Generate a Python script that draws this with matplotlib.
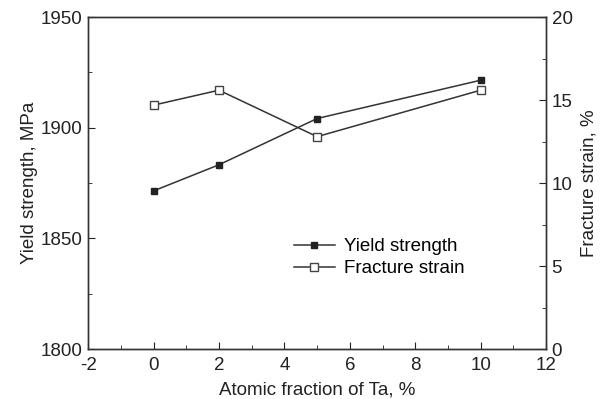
import matplotlib
import matplotlib.pyplot as plt
from matplotlib.ticker import MultipleLocator

matplotlib.use("Agg")

plt.rcParams["font.family"] = ["Liberation Sans", "DejaVu Sans"]
plt.rcParams["axes.unicode_minus"] = False

ta_fraction = [0, 2, 5, 10]
yield_strength = [1871.5, 1883.3, 1904.2, 1921.5]
fracture_strain = [14.7, 15.6, 12.8, 15.6]

fig, ax = plt.subplots(figsize=(6.04, 3.99), dpi=100)
fig.subplots_adjust(left=0.146, right=0.904, top=0.957, bottom=0.125)
ax2 = ax.twinx()

line_color = "#333333"
l1, = ax.plot(ta_fraction, yield_strength, marker="s", color=line_color,
              markerfacecolor="#222222", markeredgecolor="#222222",
              markersize=5, linewidth=1.1, label="Yield strength")
l2, = ax2.plot(ta_fraction, fracture_strain, marker="s", color=line_color,
               markerfacecolor="white", markeredgecolor="#444444",
               markersize=6, linewidth=1.1, label="Fracture strain")

ax.set_xlim(-2, 12)
ax.set_ylim(1800, 1950)
ax2.set_ylim(0, 20)
ax.xaxis.set_major_locator(MultipleLocator(2))
ax.xaxis.set_minor_locator(MultipleLocator(1))
ax.yaxis.set_major_locator(MultipleLocator(50))
ax.yaxis.set_minor_locator(MultipleLocator(25))
ax2.yaxis.set_major_locator(MultipleLocator(5))
ax2.yaxis.set_minor_locator(MultipleLocator(2.5))

for a in (ax, ax2):
    a.tick_params(which="both", direction="in", labelsize=13.5, colors="#222222")
    a.tick_params(which="major", length=5, pad=4)
    a.tick_params(which="minor", length=3)
    for s in a.spines.values():
        s.set_color("#333333")
        s.set_linewidth(1.0)
ax.tick_params(axis="x", which="major", pad=6)
for lbl in ax2.get_yticklabels():
    lbl.set_verticalalignment("center_baseline")

ax.set_xlabel("Atomic fraction of Ta, %", fontsize=13.5, color="#222222", labelpad=5)
ax.set_ylabel("Yield strength, MPa", fontsize=13.5, color="#222222", labelpad=2)
ax2.set_ylabel("Fracture strain, %", fontsize=13.5, color="#222222", labelpad=6)

ax.legend([l1, l2], ["Yield strength", "Fracture strain"], loc="upper left",
          bbox_to_anchor=(0.412, 0.385), frameon=False, fontsize=13.5,
          handlelength=2.2, handletextpad=0.5, labelspacing=0.25)

fig.savefig("out.png")
